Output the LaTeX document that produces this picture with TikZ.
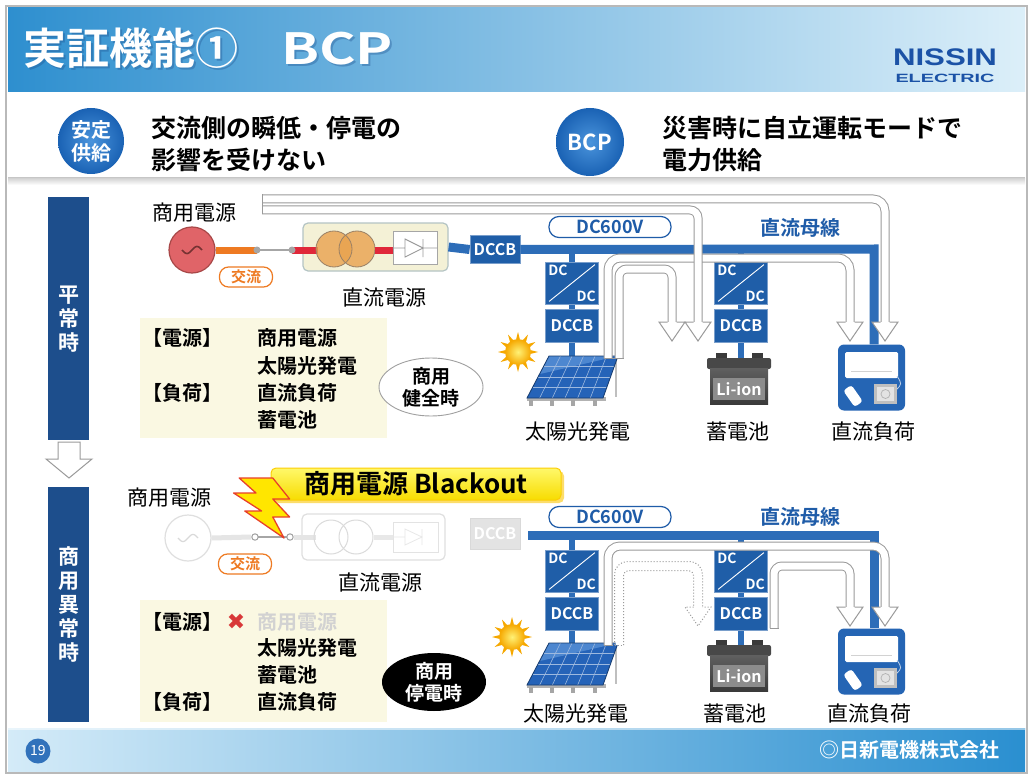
\documentclass[tikz,border=0pt]{standalone}
\usepackage{fontspec}
\setmainfont{Noto Sans CJK JP}[BoldFont={Noto Sans CJK JP Bold}]
\newfontfamily\logofont{Liberation Sans}
\newfontfamily\symfont{DejaVu Sans}
\usetikzlibrary{shapes.geometric,calc}

\definecolor{titleL}{HTML}{2E8FCF}
\definecolor{titleR}{HTML}{DCEFF9}
\definecolor{barblue}{HTML}{1D4E8C}
\definecolor{circblue}{HTML}{1A62B4}
\definecolor{circlight}{HTML}{4A94DC}
\definecolor{busblue}{HTML}{2D6DB8}
\definecolor{boxblue}{HTML}{1F5EA8}
\definecolor{textblue}{HTML}{1F5CA8}
\definecolor{acorange}{HTML}{EE7A22}
\definecolor{acred}{HTML}{E0283A}
\definecolor{genred}{HTML}{E06468}
\definecolor{genedge}{HTML}{A84848}
\definecolor{psfill}{HTML}{F4F1D6}
\definecolor{psedge}{HTML}{B4C4C4}
\definecolor{trafo}{HTML}{E9A24E}
\definecolor{bandgray}{HTML}{9A9A9A}
\definecolor{paleyellow}{HTML}{FAF8E2}
\definecolor{footL}{HTML}{D4EBF8}
\definecolor{footR}{HTML}{2A8FD0}
\definecolor{nissin}{HTML}{1B52A6}
\definecolor{panelblue}{HTML}{2563B8}
\definecolor{panellight}{HTML}{6FA6E4}
\definecolor{sunyellow}{HTML}{FFE81A}
\definecolor{sunorange}{HTML}{F6A800}
\definecolor{battdark}{HTML}{484848}
\definecolor{battgray}{HTML}{8C8C8C}
\definecolor{loadblue}{HTML}{2565B4}
\definecolor{boltyellow}{HTML}{FFE600}
\definecolor{boltred}{HTML}{E8402A}
\definecolor{blackoutTop}{HTML}{FFF86A}
\definecolor{blackoutBot}{HTML}{F7DC00}
\definecolor{crossred}{HTML}{D83838}

\tikzset{
  lbl/.style={font=\fontsize{21}{21}\selectfont, inner sep=0},
  listitem/.style={font=\bfseries\fontsize{20}{20}\selectfont, anchor=west, inner sep=0},
  bus/.style={busblue, line width=9pt},
  stub/.style={busblue, line width=6pt},
  dccbbox/.style={rectangle, fill=boxblue, draw=boxblue!60!white, line width=0.8pt, text=white,
    font=\bfseries\fontsize{16}{16}\selectfont, minimum width=53pt, minimum height=33pt, inner sep=0},
  dcdcbox/.style={rectangle, fill=boxblue, draw=boxblue!60!white, line width=0.8pt,
    minimum width=53pt, minimum height=42pt, inner sep=0},
  dctext/.style={text=white, font=\bfseries\fontsize{14}{14}\selectfont, inner sep=1pt},
  band/.style={draw=bandgray, line width=1pt, double=white, double distance=7pt, rounded corners=12pt},
  bandedge/.style={draw=bandgray, line width=1pt},
  acpill/.style={draw=acorange, line width=1.2pt, rounded corners=9pt, fill=white, text=acorange,
    font=\bfseries\fontsize{15}{15}\selectfont, minimum width=53pt, minimum height=20pt, inner sep=0},
  vpill/.style={draw=textblue, line width=1.2pt, rounded corners=10pt, fill=white, text=textblue,
    font=\bfseries\fontsize{18}{18}\selectfont, minimum width=122pt, minimum height=21pt, inner sep=0},
  busname/.style={text=textblue, font=\bfseries\fontsize{20}{20}\selectfont, inner sep=0},
  sidetext/.style={text=white, font=\bfseries\fontsize{21}{24}\selectfont, align=center, inner sep=0},
}

% hollow arrow head: [extra style]{x}{base y}
\newcommand{\hollowhead}[3][]{%
  \fill[white] ({#2-13},#3) -- ({#2+13},#3) -- (#2,{#3+19}) -- cycle;
  \draw[bandedge,#1] ({#2-4.5},#3) -- ({#2-13},#3) -- (#2,{#3+19}) -- ({#2+13},#3) -- ({#2+4.5},#3);
}

% DC/DC converter box: name, x, y
\newcommand{\dcdcunit}[3]{%
  \node[dcdcbox] (#1) at (#2,#3) {};
  \draw[white, line width=0.9pt] ($(#1.south west)+(4,-3)$) -- ($(#1.north east)+(-4,3)$);
  \node[dctext, anchor=north west] (#1a) at ($(#1.north west)+(2,2)$) {DC};
  \node[dctext, anchor=south east] (#1b) at ($(#1.south east)+(-2,-2)$) {DC};
}

% sun: x, y
\newcommand{\drawsun}[2]{%
  \foreach \ang in {0,30,...,330}
    \fill[sunorange] ($(#1,#2)+(\ang-9:12.5)$) -- ($(#1,#2)+(\ang:20)$) -- ($(#1,#2)+(\ang+9:12.5)$) -- cycle;
  \shade[inner color=sunyellow!60!white, outer color=sunorange] (#1,#2) circle (13);
}

% solar panel, shifted down by #1
\newcommand{\solarpanel}[1]{%
  \begin{scope}[shift={(0,#1)}]
    \draw[gray!50, line width=2.5pt] (616,358) -- (616,397);
    \fill[gray!60] (527,397) rectangle (606,401);
    \foreach \fx in {531,552,573,595} \fill[gray!70] (\fx-2,400) rectangle (\fx+2,406);
    \fill[panelblue] (527,398) -- (603,398) -- (618,356) -- (549,356) -- cycle;
    \fill[panellight, opacity=0.55] (549,356) -- (618,356) -- (540,374) -- cycle;
    \foreach \pp in {0.1667,0.3333,0.5,0.6667,0.8333}
      \draw[white!55!panelblue, line width=0.6pt] ($(527,398)!\pp!(603,398)$) -- ($(549,356)!\pp!(618,356)$);
    \foreach \pp in {0.25,0.5,0.75}
      \draw[white!55!panelblue, line width=0.6pt] ($(527,398)!\pp!(549,356)$) -- ($(603,398)!\pp!(618,356)$);
    \draw[panelblue!60!black, line width=0.8pt] (527,398) -- (603,398) -- (618,356) -- (549,356) -- cycle;
  \end{scope}
}

% battery, shifted down by #1, label node name #2
\newcommand{\battery}[2]{%
  \begin{scope}[shift={(0,#1)}]
    \fill[battdark!80!black] (716,353) rectangle (727,359);
    \fill[battdark!80!black] (752,353) rectangle (763,359);
    \fill[battdark, rounded corners=2pt] (707,358) rectangle (771,369);
    \shade[top color=gray!75!black, bottom color=battdark!80!black] (710,368) rectangle (768,404);
    \fill[battgray] (713,378) rectangle (765,400);
    \node[text=white, font=\bfseries\fontsize{16}{16}\selectfont, inner sep=0] (#2) at (739,389) {Li-ion};
  \end{scope}
}

% DC load, shifted down by #1, node name #2
\newcommand{\loadicon}[2]{%
  \begin{scope}[shift={(0,#1)}]
    \node[fill=loadblue, rounded corners=6pt, minimum width=67pt, minimum height=66pt, inner sep=0] (#2) at (871.5,377.5) {};
    \fill[white, rounded corners=1.5pt] (845,352) rectangle (898,378);
    \draw[gray!35, line width=0.6pt] (851,371) -- (892,371);
    \draw[white!70!loadblue, line width=0.8pt] (897,376) .. controls (902,384) .. (896,390);
    \fill[white, rounded corners=3pt, rotate around={35:(853,396)}] (848,386) rectangle (858,406);
    \fill[gray!50] (874,384) rectangle (897,404);
    \fill[gray!22] (877,387) rectangle (894,401);
    \draw[gray!60, line width=0.7pt] (885.5,394) circle (4.5);
  \end{scope}
}

\begin{document}
\begin{tikzpicture}[x=1pt,y=-1pt]
\useasboundingbox (0,0) rectangle (1033,778);
\fill[white] (0,0) rectangle (1033,778);

% ---------- title bar ----------
\shade[left color=titleL, right color=titleR] (8,8) rectangle (1025,92);
\node[anchor=west, text=barblue, opacity=0.35, font=\bfseries\fontsize{43}{43}\selectfont, inner sep=0]
  (titleshadow) at (25,50) {実証機能①　\scalebox{1.3}[1]{BCP}};
\node[anchor=west, text=white, font=\bfseries\fontsize{43}{43}\selectfont, inner sep=0]
  (title) at (23,48) {実証機能①　\scalebox{1.3}[1]{BCP}};
\node[text=nissin, font=\logofont\bfseries\fontsize{24}{24}\selectfont, inner sep=0] (logoA) at (945,57) {\scalebox{1.3}[1]{NISSIN}};
\node[text=nissin, font=\logofont\bfseries\fontsize{12}{12}\selectfont, inner sep=0] (logoB) at (945,78) {\scalebox{1.65}[1]{ELECTRIC}};

% ---------- header ----------
\fill[gray!45] (8,177) rectangle (1025,179);
\shade[top color=gray!30, bottom color=white] (8,179) rectangle (1025,185);
\node[circle, inner color=circlight, outer color=circblue, minimum size=66pt, inner sep=0, text=white,
  font=\bfseries\fontsize{20}{23}\selectfont, align=center] (stable) at (91,141) {安定\\供給};
\node[anchor=west, align=left, font=\bfseries\fontsize{25}{32}\selectfont, inner sep=0]
  (stabletext) at (151,144) {交流側の瞬低・停電の\\影響を受けない};
\node[circle, inner color=circlight, outer color=circblue, minimum size=68pt, inner sep=0, text=white,
  font=\bfseries\fontsize{22}{22}\selectfont] (bcp) at (590,142) {BCP};
\node[anchor=west, align=left, font=\bfseries\fontsize{25}{32}\selectfont, inner sep=0]
  (bcptext) at (662,144) {災害時に自立運転モードで\\電力供給};

% ---------- side bars ----------
\node[fill=barblue, minimum width=41pt, minimum height=243pt, anchor=north west, inner sep=0] (normalbar) at (48,197) {};
\node[sidetext] (normaltext) at (normalbar.center) {平\\常\\時};
\draw[bandedge, fill=white] (58,442) -- (80,442) -- (80,459) -- (92,459) -- (69,478) -- (46,459) -- (58,459) -- cycle;
\node[fill=barblue, minimum width=41pt, minimum height=235pt, anchor=north west, inner sep=0] (faultbar) at (48,487) {};
\node[sidetext] (faulttext) at (faultbar.center) {商\\用\\異\\常\\時};

% ---------- upper panel: source side ----------
\node[lbl, anchor=west] (grid1) at (152,213) {商用電源};
\node[draw=psedge, fill=psfill, rounded corners=5pt, line width=1.2pt, minimum width=145pt, minimum height=48pt, inner sep=0]
  (dcps1) at (375.5,247) {};
\node[circle, fill=genred, draw=genedge, line width=1.2pt, minimum size=46pt, inner sep=0] (gen1) at (192,250) {};
\draw[genedge!70!black, line width=1.6pt] plot[domain=-10:10, samples=30] ({192+\x}, {250-3.5*sin(\x*18)});
\coordinate (dotA1) at (257,250);
\coordinate (dotB1) at (292,250);
\draw[acorange, line width=7pt] (gen1.east) -- (dotA1);
\draw[gray!70, line width=1.2pt] (dotA1) -- (dotB1);
\draw[acred, line width=7pt] (dotB1) -- (318,250);
\fill[gray!70] (dotA1) circle (3.5);
\fill[gray!70] (dotB1) circle (3.5);
\fill[trafo, fill opacity=0.8] (334,249) circle (18);
\fill[trafo, fill opacity=0.8] (357,249) circle (18);
\draw[gray!60!brown, line width=0.8pt] (334,249) circle (18) (357,249) circle (18);
\draw[acred, line width=7pt] (375,250) -- (393,250);
\node[draw=gray!70, fill=white, line width=0.8pt, minimum width=44pt, minimum height=33pt, inner sep=0] (rect1) at (415,248) {};
\draw[gray!80, line width=0.9pt] (rect1.west) -- (405,248) (405,239) -- (405,257) -- (423,248) -- cycle (423,239) -- (423,257) (423,248) -- (rect1.east);
\node[acpill] (ac1) at (246,277) {交流};
\node[lbl] (dcpsname1) at (384,297) {直流電源};

% ---------- upper panel: DC bus ----------
\node[dccbbox, minimum width=50pt, minimum height=28pt] (dccbM1) at (495,249.5) {DCCB};
\draw[bus] (dcps1.east) -- (dccbM1.west);
\coordinate (busturn1) at (874,249);
\coordinate (tapS1) at (572,249);
\coordinate (tapB1) at (741,249);
\coordinate (panS1) at (572,360);
\coordinate (batS1) at (741,358);
\loadicon{0}{load1}
\draw[bus] (dccbM1.east) -- (busturn1) -- (busturn1 |- load1.north);
\dcdcunit{dcdcS1}{572}{283}
\node[dccbbox] (dccbS1) at (572,326) {DCCB};
\dcdcunit{dcdcB1}{741}{283}
\node[dccbbox] (dccbB1) at (741,326) {DCCB};
\draw[stub] (tapS1) -- (dcdcS1.north) (dcdcS1.south) -- (dccbS1.north) (dccbS1.south) -- (panS1);
\draw[stub] (tapB1) -- (dcdcB1.north) (dcdcB1.south) -- (dccbB1.north) (dccbB1.south) -- (batS1);
\dcdcunit{dcdcS1}{572}{283}
\dcdcunit{dcdcB1}{741}{283}
\node[dccbbox] (dccbS1) at (572,326) {DCCB};
\node[dccbbox] (dccbB1) at (741,326) {DCCB};
\drawsun{518}{352}
\solarpanel{0}
\battery{0}{liion1}
\node[vpill] (volt1) at (610,227) {DC600V};
\node[busname] (busname1) at (800,228) {直流母線};
\node[lbl] (pvname1) at (578,432) {太陽光発電};
\node[lbl] (batname1) at (738,432) {蓄電池};
\node[lbl] (loadname1) at (873,432) {直流負荷};

% power flows, normal operation
\draw[band] (608,358) -- (608,258) -- (850,258) -- (850,323);
\draw[band, rounded corners=8pt] (619,358) -- (619,269) -- (672,269) -- (672,323);
\draw[bandedge] (603.5,358) -- (623.5,358);
\draw[band] (262,199) -- (885,199) -- (885,323);
\draw[band, rounded corners=8pt] (262,210) -- (698,210) -- (698,323);
\draw[bandedge] (262,194.5) -- (262,214.5);
\hollowhead{672}{322}
\hollowhead{698}{322}
\hollowhead{850}{322}
\hollowhead{885}{322}

% source / load list, normal operation
\fill[paleyellow] (140,318) rectangle (387,438);
\node[listitem] (srcA) at (142,338) {【電源】};
\node[listitem] (srcA1) at (257,338) {商用電源};
\node[listitem] (srcA2) at (257,366) {太陽光発電};
\node[listitem] (ldA) at (142,393) {【負荷】};
\node[listitem] (ldA1) at (257,393) {直流負荷};
\node[listitem] (ldA2) at (257,420) {蓄電池};
\node[ellipse, draw=gray!75, line width=0.9pt, fill=white, minimum width=104pt, minimum height=58pt, inner sep=0,
  align=center, font=\bfseries\fontsize{19}{22}\selectfont] (healthy) at (431,387) {商用\\健全時};

% ---------- lower panel: source side (out of service) ----------
\fill[yellow!60!orange, opacity=0.6, rounded corners=5pt] (273,471) rectangle (564,503);
\node[top color=blackoutTop, bottom color=blackoutBot, draw=yellow!65!orange, line width=1pt, rounded corners=5pt,
  minimum width=290pt, minimum height=32pt, inner sep=0, font=\bfseries\fontsize{26}{26}\selectfont]
  (blackout) at (416,484) {商用電源 Blackout};
\node[lbl, anchor=west] (grid2) at (127,498) {商用電源};
\node[draw=gray!25, fill=white, rounded corners=5pt, line width=1.2pt, minimum width=143pt, minimum height=46pt, inner sep=0]
  (dcps2) at (373.5,537) {};
\node[circle, draw=gray!25, line width=1.2pt, minimum size=46pt, inner sep=0] (gen2) at (188,538) {};
\draw[gray!30, line width=1.2pt] plot[domain=-10:10, samples=30] ({188+\x}, {538-3.5*sin(\x*18)});
\coordinate (dotA2) at (255,537);
\coordinate (dotB2) at (290,537);
\draw[gray!20, line width=5pt] (gen2.east) -- (251,537);
\draw[gray!70, line width=1.2pt] (dotA2) -- (dotB2);
\draw[gray!20, line width=5pt] (294,537) -- (316,537);
\draw[gray!75, line width=1pt, fill=white] (dotA2) circle (3.2) (dotB2) circle (3.2);
\draw[gray!28, line width=1pt] (331,537) circle (17) (356,537) circle (17);
\draw[gray!18, line width=5pt] (374,537) -- (393,537);
\draw[gray!22, line width=0.8pt] (393,522) rectangle (438,552);
\draw[gray!18, line width=0.8pt] (393,537) -- (405,537) (405,529) -- (405,545) -- (422,537) -- cycle (422,529) -- (422,545);
\node[acpill] (ac2) at (245,564) {交流};
\node[lbl] (dcpsname2) at (380,582) {直流電源};
\node[rectangle, fill=gray!22, draw=gray!30, line width=0.8pt, text=white, font=\bfseries\fontsize{16}{16}\selectfont,
  minimum width=50pt, minimum height=31pt, inner sep=0] (dccbM2) at (495,534) {DCCB};
% lightning bolt
\begin{scope}[shift={(228,478)}, xscale=5.6, yscale=3]
  \draw[boltred, line width=1.3pt, fill=boltyellow, line join=round]
    (8,0) -- (2,0) -- (5,5) -- (1,5) -- (6,11) -- (3,11) -- (10,20) -- (8,13) -- (11,13) -- (8,7) -- (11,7) -- cycle;
\end{scope}

% ---------- lower panel: DC bus ----------
\coordinate (busstart2) at (528,535);
\coordinate (busturn2) at (874,535);
\coordinate (tapS2) at (572,535);
\coordinate (tapB2) at (741,535);
\coordinate (panS2) at (572,646);
\coordinate (batS2) at (741,645);
\loadicon{284}{load2}
\draw[bus] (busstart2) -- (busturn2) -- (busturn2 |- load2.north);
\dcdcunit{dcdcS2}{572}{571}
\node[dccbbox] (dccbS2) at (572,614) {DCCB};
\dcdcunit{dcdcB2}{741}{571}
\node[dccbbox] (dccbB2) at (741,614) {DCCB};
\draw[stub] (tapS2) -- (dcdcS2.north) (dcdcS2.south) -- (dccbS2.north) (dccbS2.south) -- (panS2);
\draw[stub] (tapB2) -- (dcdcB2.north) (dcdcB2.south) -- (dccbB2.north) (dccbB2.south) -- (batS2);
\dcdcunit{dcdcS2}{572}{571}
\dcdcunit{dcdcB2}{741}{571}
\node[dccbbox] (dccbS2) at (572,614) {DCCB};
\node[dccbbox] (dccbB2) at (741,614) {DCCB};
\drawsun{512}{637}
\solarpanel{287}
\battery{287}{liion2}
\node[vpill] (volt2) at (610,517) {DC600V};
\node[busname] (busname2) at (800,517) {直流母線};
\node[lbl] (pvname2) at (576,714) {太陽光発電};
\node[lbl] (batname2) at (735,714) {蓄電池};
\node[lbl] (loadname2) at (869,714) {直流負荷};

% power flows, blackout operation
\draw[band] (608,645) -- (608,546) -- (885,546) -- (885,608);
\draw[bandedge] (603.5,645) -- (612.5,645);
\draw[white, line width=7pt, rounded corners=8pt] (619,645) -- (619,566) -- (698,566) -- (698,608);
\draw[bandgray, line width=1pt, dotted, rounded corners=13pt] (614.5,645) -- (614.5,561.5) -- (702.5,561.5) -- (702.5,608);
\draw[bandgray, line width=1pt, dotted, rounded corners=5pt] (623.5,645) -- (623.5,570.5) -- (693.5,570.5) -- (693.5,608);
\draw[bandgray, line width=1pt, dotted] (614.5,645) -- (623.5,645);
\draw[band, rounded corners=8pt] (774,628) -- (774,566) -- (850,566) -- (850,608);
\draw[bandedge] (769.5,628) -- (778.5,628);
\hollowhead[dotted]{698}{607}
\hollowhead{850}{607}
\hollowhead{885}{607}

% source / load list, blackout
\fill[paleyellow] (140,600) rectangle (387,722);
\node[listitem] (srcB) at (142,622) {【電源】};
\node[text=crossred, font=\symfont\fontsize{22}{22}\selectfont, inner sep=0] (cross) at (236,622) {✖};
\node[listitem, text=gray!35] (srcB1) at (257,622) {商用電源};
\node[listitem] (srcB2) at (257,648) {太陽光発電};
\node[listitem] (srcB3) at (257,675) {蓄電池};
\node[listitem] (ldB) at (142,702) {【負荷】};
\node[listitem] (ldB1) at (257,702) {直流負荷};
\node[ellipse, fill=black, minimum width=104pt, minimum height=58pt, inner sep=0, text=white,
  align=center, font=\bfseries\fontsize{19}{22}\selectfont] (outage) at (434,682) {商用\\停電時};

% ---------- footer ----------
\shade[left color=footL, right color=footR] (8,728) rectangle (1025,772);
\fill[white, opacity=0.5] (8,728) rectangle (1025,730);
\node[circle, fill=circblue!90!white, minimum size=25pt, inner sep=0, text=white, font=\fontsize{14}{14}\selectfont] (pageno) at (38,751) {19};
\node[anchor=east, text=white, font=\bfseries\fontsize{20}{20}\selectfont, inner sep=0] (company) at (1000,750) {◎日新電機株式会社};

% slide frame
\draw[gray!55, line width=1.5pt] (6,6) rectangle (1027,773);
\end{tikzpicture}
\end{document}
